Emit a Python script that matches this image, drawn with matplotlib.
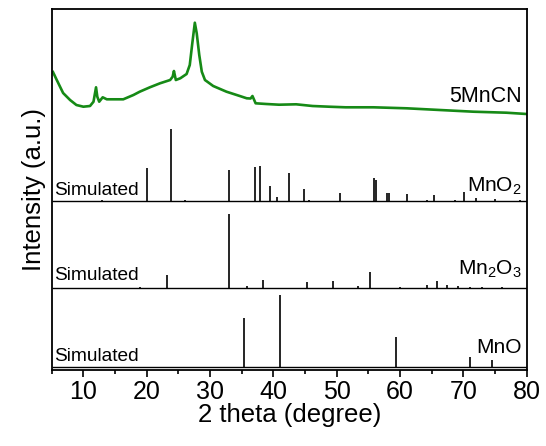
import matplotlib
matplotlib.use("Agg")
import matplotlib.pyplot as plt
from matplotlib.ticker import MultipleLocator

plt.rcParams['font.family'] = ['Liberation Sans', 'DejaVu Sans']
plt.rcParams['mathtext.default'] = 'regular'

# ---- experimental pattern (5MnCN) ----
cn_2theta = [5.2, 5.8, 6.8, 7.9, 8.9, 10.0, 11.05, 11.6, 12.0, 12.2, 12.5, 13.05, 13.7,
             16.3, 17.9, 18.9, 20.5, 22.1, 23.7, 24.1, 24.3, 24.6, 25.3, 26.3, 26.8,
             27.2, 27.6, 27.9, 28.3, 28.7, 29.2, 30.5, 32.6, 34.7, 35.8, 36.4, 36.7,
             37.2, 38.9, 40.9, 43.6, 46.2, 48.8, 51.4, 55.8, 61.05, 66.3, 71.6, 76.8, 80.0]
cn_int = [298.5, 290.5, 277.5, 270.5, 265.5, 263.8, 264.5, 268.8, 283.2, 273.8, 268.8,
          273.2, 271.2, 271.2, 275.5, 278.8, 283.2, 287.2, 290.5, 293.8, 299.5, 290.5,
          292.2, 296.5, 305.5, 327.2, 347.8, 337.2, 315.5, 298.8, 290.5, 284.5, 278.8,
          274.5, 272.2, 272.0, 274.5, 267.2, 266.5, 265.8, 266.2, 264.5, 263.8, 263.2,
          263.2, 262.2, 260.5, 258.8, 257.8, 256.5]

# ---- simulated patterns: peak positions and heights ----
mno2_pos = [13.0, 20.0, 23.8, 26.05, 33.05, 37.1, 37.9, 39.5, 40.5, 42.4, 44.8, 45.7,
            50.5, 55.9, 56.2, 57.9, 58.3, 61.05, 64.2, 65.3, 68.7, 70.1, 72.0, 75.0, 78.9]
mno2_h = [1.5, 33.5, 72.5, 1.5, 31.0, 34.0, 35.0, 15.0, 4.0, 28.5, 12.0, 1.5,
          8.0, 23.0, 21.0, 8.5, 8.5, 7.0, 1.5, 6.3, 1.5, 9.0, 3.4, 2.4, 1.5]

mn2o3_pos = [18.9, 23.2, 33.05, 35.8, 38.3, 45.3, 49.4, 53.4, 55.3, 60.0, 64.2, 65.9,
             67.4, 69.2, 71.05, 72.9, 76.05]
mn2o3_h = [1.2, 13.0, 74.0, 2.0, 8.0, 6.3, 6.7, 1.5, 16.0, 1.2, 2.7, 6.7,
           2.7, 1.7, 1.2, 1.2, 1.2]

mno_pos = [35.4, 41.05, 59.4, 71.05, 74.6]
mno_h = [48.4, 71.7, 29.4, 9.4, 6.7]

offsets = {'MnO2': 169.5, 'Mn2O3': 82.5, 'MnO': 3.8}
phase_labels = {'MnO2': 'MnO$_2$', 'Mn2O3': 'Mn$_2$O$_3$', 'MnO': 'MnO'}

fig = plt.figure(figsize=(5.46, 4.46), dpi=100)
ax = fig.add_axes([0.0947, 0.1693, 0.8699, 0.8105])

ax.plot(cn_2theta, cn_int, color='#168a16', lw=1.9)

for pos, h, key in [(mno2_pos, mno2_h, 'MnO2'), (mn2o3_pos, mn2o3_h, 'Mn2O3'), (mno_pos, mno_h, 'MnO')]:
    b = offsets[key]
    ax.hlines(b, 5, 80, color='black', lw=1.0)
    ax.vlines(pos, b, [b + v for v in h], color='black', lw=1.2)

ax.set_xlim(5, 80)
ax.set_ylim(0, 361.5)
ax.xaxis.set_major_locator(MultipleLocator(10))
ax.xaxis.set_minor_locator(MultipleLocator(5))
ax.set_yticks([])
ax.tick_params(axis='x', which='major', direction='out', length=5, width=1.2, labelsize=18, pad=2)
ax.tick_params(axis='x', which='minor', direction='out', length=3, width=1.2)
for s in ax.spines.values():
    s.set_linewidth(1.3)

ax.set_xlabel('2 theta (degree)', fontsize=18.5, labelpad=-1)
ax.set_ylabel('Intensity (a.u.)', fontsize=18.5, labelpad=4)

tr = ax.get_yaxis_transform()
ax.text(0.99, 268.5, '5MnCN', ha='right', va='baseline', fontsize=15.5, transform=tr)
label_y = {'MnO2': 178.8, 'Mn2O3': 95.5, 'MnO': 17.2}
sim_y = {'MnO2': 175.5, 'Mn2O3': 90.5, 'MnO': 9.5}
for key in offsets:
    ax.text(0.99, label_y[key], phase_labels[key], ha='right', va='baseline', fontsize=15, transform=tr)
    ax.text(0.006, sim_y[key], 'Simulated', ha='left', va='baseline', fontsize=13.8, transform=tr)

fig.savefig('out.png', dpi=100)
